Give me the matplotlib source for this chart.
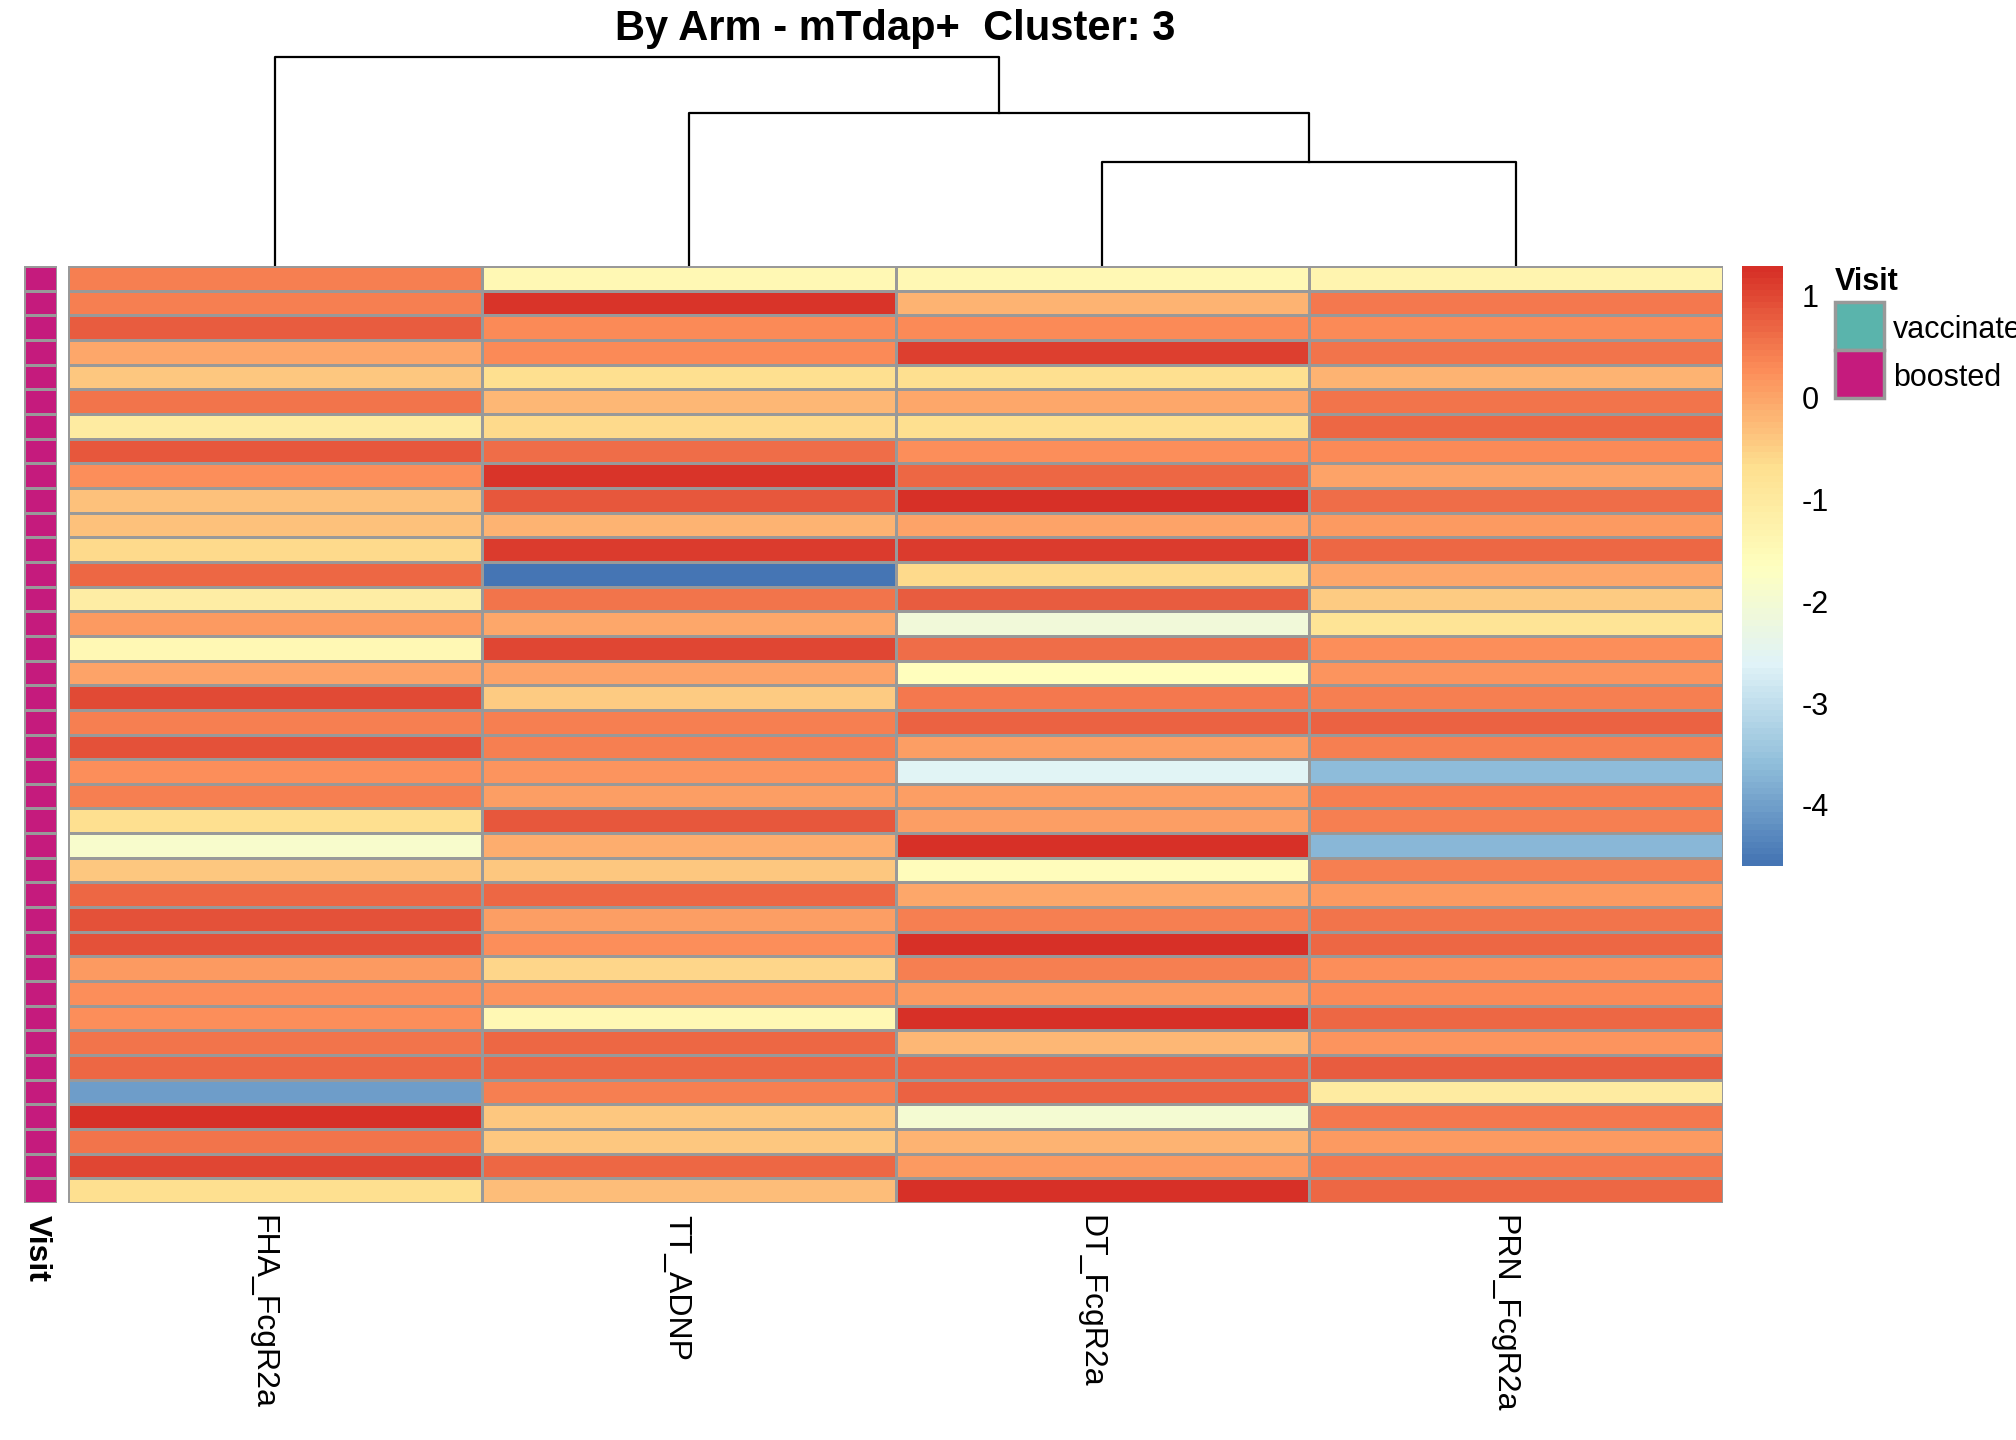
import numpy as np
import matplotlib
matplotlib.use("Agg")
import matplotlib.pyplot as plt
from matplotlib.colors import LinearSegmentedColormap, ListedColormap

plt.rcParams['font.family'] = ['Liberation Sans', 'DejaVu Sans']

# column order after clustering
features = ["FHA_FcgR2a", "TT_ADNP", "DT_FcgR2a", "PRN_FcgR2a"]

# scaled values, one list per column (38 samples, top to bottom)
fha = [0.45, 0.45, 0.80, -0.05, -0.38, 0.55, -1.05, 0.85, 0.25, -0.35,
       -0.32, -0.62, 0.68, -1.10, 0.12, -1.45, 0.03, 0.98, 0.45, 0.90,
       0.25, 0.45, -0.68, -1.85, -0.40, 0.70, 0.90, 0.92, 0.15, 0.25,
       0.25, 0.55, 0.70, -4.05, 1.28, 0.55, 1.05, -0.68]
tt = [-1.45, 1.20, 0.30, 0.30, -0.67, -0.20, -0.60, 0.60, 1.20, 0.82,
      -0.15, 1.12, -4.60, 0.55, -0.02, 1.00, 0.03, -0.42, 0.45, 0.45,
      0.18, 0.08, 0.82, -0.12, -0.36, 0.70, 0.08, 0.25, -0.55, 0.20,
      -1.45, 0.70, 0.68, 0.45, -0.40, -0.38, 0.70, -0.25]
dt = [-1.45, -0.15, 0.30, 1.10, -0.67, -0.05, -0.70, 0.25, 0.70, 1.28,
      0.05, 1.15, -0.62, 0.80, -2.10, 0.60, -1.65, 0.50, 0.75, 0.08,
      -2.55, 0.08, 0.10, 1.28, -1.55, -0.03, 0.42, 1.28, 0.42, 0.14,
      1.28, -0.22, 0.72, 0.72, -1.95, -0.15, 0.15, 1.28]
prn = [-1.35, 0.50, 0.30, 0.55, -0.15, 0.55, 0.68, 0.30, 0.00, 0.60,
       0.15, 0.68, -0.02, -0.45, -0.80, 0.25, 0.22, 0.42, 0.75, 0.45,
       -3.60, 0.42, 0.42, -3.70, 0.45, 0.15, 0.55, 0.70, 0.25, 0.30,
       0.70, 0.20, 0.76, -1.05, 0.48, 0.15, 0.50, 0.70]

# column dendrogram merge heights (DT+PRN, TT+(DT,PRN), FHA+rest)
merge_heights = [0.50, 0.73, 1.00]

visit_levels = ["vaccinated", "boosted"]
visit_colors = ["#5AB4AC", "#C51B7D"]
visit = ["boosted"] * 38

vmin, vmax = -4.6, 1.29

data = np.array([fha, tt, dt, prn]).T
nrow, ncol = data.shape

rdylbu = ["#4575B4", "#91BFDB", "#E0F3F8", "#FFFFBF", "#FEE090", "#FC8D59", "#D73027"]
cmap = ListedColormap(LinearSegmentedColormap.from_list("rdylbu", rdylbu)(np.linspace(0, 1, 100)))

W, H = 2016, 1440
fig = plt.figure(figsize=(W / 100, H / 100), dpi=100)

def box(x0, y0, x1, y1):
    # pixel box (from top-left) -> figure fraction rect
    return [x0 / W, 1 - y1 / H, (x1 - x0) / W, (y1 - y0) / H]

grid = "#999999"

# main heatmap
ax = fig.add_axes(box(68, 266, 1723, 1203))
ax.pcolormesh(data, cmap=cmap, vmin=vmin, vmax=vmax, edgecolors=grid, linewidth=1.8)
ax.set_xlim(0, ncol)
ax.set_ylim(nrow, 0)
ax.axis("off")

for i, name in enumerate(features):
    ax.text(i + 0.47, nrow + 0.5, name, rotation=270, ha="center", va="top", fontsize=23)

# row annotation
ax_ann = fig.add_axes(box(24, 266, 57, 1203))
codes = np.array([[visit_levels.index(v)] for v in visit])
ax_ann.pcolormesh(codes, cmap=ListedColormap(visit_colors), vmin=-0.5, vmax=1.5,
                  edgecolors=grid, linewidth=1.8)
ax_ann.set_xlim(0, 1)
ax_ann.set_ylim(nrow, 0)
ax_ann.axis("off")
ax_ann.text(0.4, nrow + 0.5, "Visit", rotation=270, ha="center", va="top",
            fontsize=23, fontweight="bold")

# column dendrogram
ax_d = fig.add_axes(box(68, 50, 1723, 266))
xs = [0.5, 1.5, 2.5, 3.5]
h1, h2, h3 = merge_heights
m1 = (xs[2] + xs[3]) / 2
m2 = (xs[1] + m1) / 2
lw = 1.6
ax_d.plot([xs[2], xs[2], xs[3], xs[3]], [0, h1, h1, 0], color="black", lw=lw)
ax_d.plot([xs[1], xs[1], m1, m1], [0, h2, h2, h1], color="black", lw=lw)
ax_d.plot([xs[0], xs[0], m2, m2], [0, h3, h3, h2], color="black", lw=lw)
ax_d.set_xlim(0, ncol)
ax_d.set_ylim(0, 1.0 + 7 / 209)
ax_d.axis("off")

# title
fig.text(895.5 / W, 1 - 29 / H, "By Arm - mTdap+  Cluster: 3", ha="center", va="center",
         fontsize=30, fontweight="bold")

# colour key
ax_c = fig.add_axes(box(1742, 266, 1782, 866))
grad = np.linspace(vmin, vmax, 100).reshape(-1, 1)
ax_c.imshow(grad, cmap=cmap, vmin=vmin, vmax=vmax, aspect="auto", origin="lower",
            extent=[0, 1, vmin, vmax])
ax_c.set_xticks([])
ax_c.yaxis.tick_right()
ax_c.set_yticks([1, 0, -1, -2, -3, -4])
ax_c.set_yticklabels(["1", "0", "-1", "-2", "-3", "-4"], fontsize=22)
ax_c.tick_params(axis="y", length=0, pad=14)
for s in ax_c.spines.values():
    s.set_visible(False)

# Visit legend
fig.text(1835 / W, 1 - 282 / H, "Visit", ha="left", va="center", fontsize=22, fontweight="bold")
for k, (lab, col) in enumerate(zip(visit_levels, visit_colors)):
    y0 = 302 + k * 48
    lax = fig.add_axes(box(1835, y0, 1884, y0 + 48))
    lax.add_patch(plt.Rectangle((0, 0), 1, 1, facecolor=col, edgecolor=grid, lw=2.5,
                                transform=lax.transAxes, clip_on=False))
    lax.axis("off")
    fig.text(1893 / W, 1 - (y0 + 28) / H, lab, ha="left", va="center", fontsize=22)

fig.savefig("out.png", dpi=100)
